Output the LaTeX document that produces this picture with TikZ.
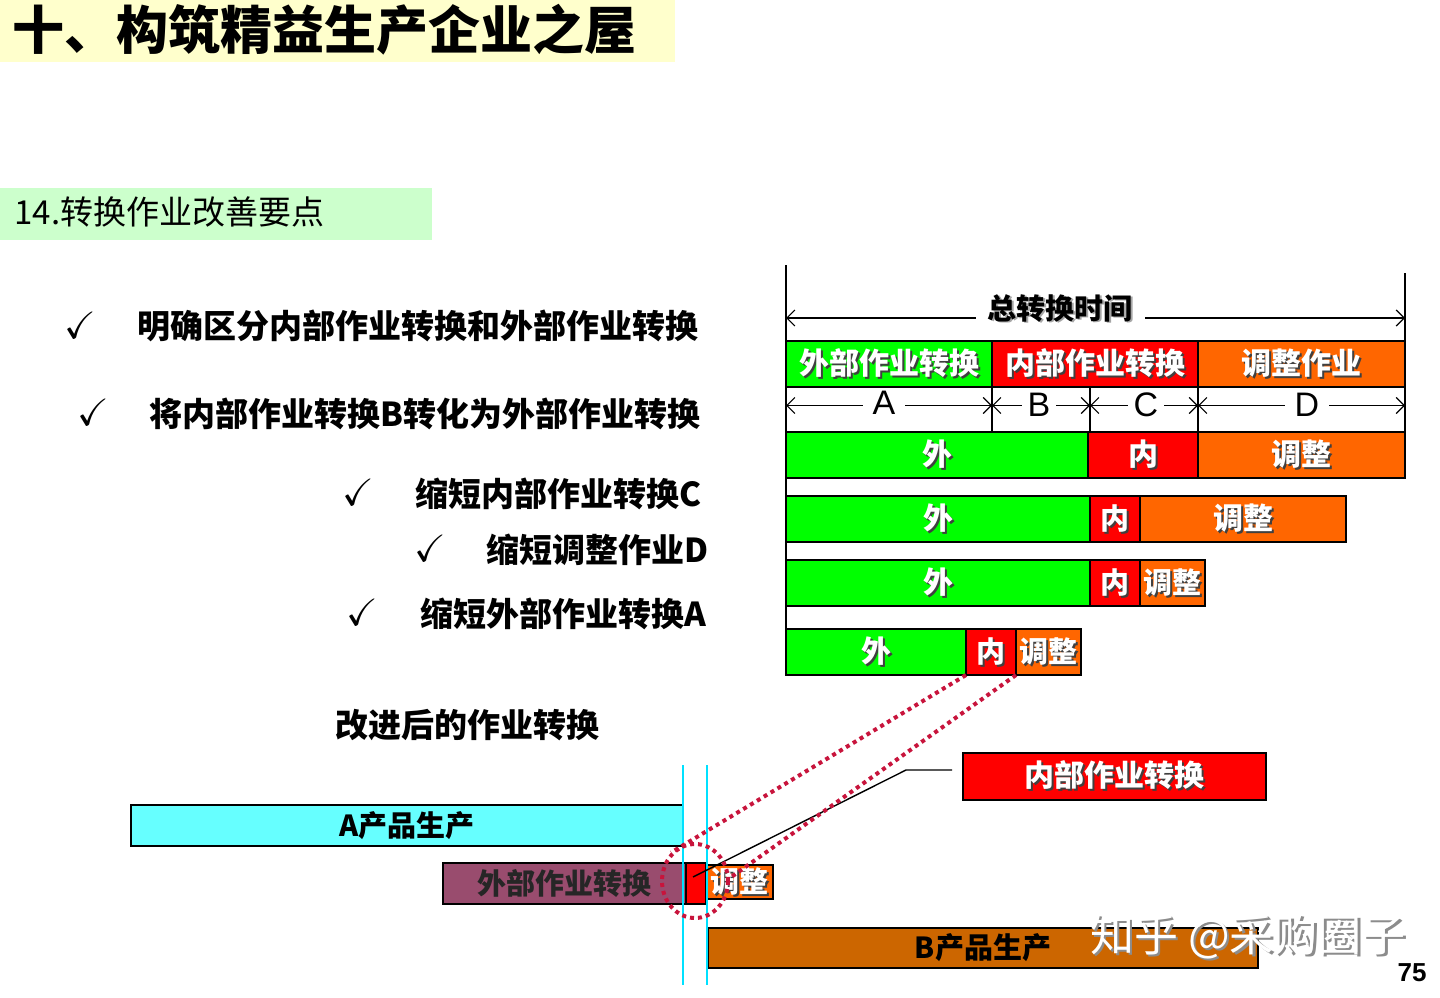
\documentclass[tikz,border=0pt]{standalone}
\usepackage{fontspec}
\usepackage{amssymb}
\setmainfont{Noto Sans CJK SC}
\newfontfamily\lat{Liberation Sans}
\usetikzlibrary{arrows.meta,shapes.geometric}
\definecolor{titlebg}{RGB}{255,255,204}
\definecolor{subbg}{RGB}{204,255,204}
\definecolor{gr}{RGB}{0,255,0}
\definecolor{rd}{RGB}{255,0,0}
\definecolor{og}{RGB}{255,102,0}
\definecolor{cy}{RGB}{102,255,255}
\definecolor{pu}{RGB}{153,76,110}
\definecolor{br}{RGB}{204,102,0}
\definecolor{cyl}{RGB}{0,225,255}
\definecolor{dred}{RGB}{200,20,60}
\newcommand\fs[1]{\fontsize{#1}{#1}\selectfont}
\newcommand\shw[1]{\rlap{\kern1pt\raisebox{-1pt}{\textcolor{black!75}{#1}}}\textcolor{white}{#1}}
\newcommand\shb[1]{\rlap{\kern0.8pt\raisebox{-0.8pt}{\textcolor{black!35}{#1}}}\textcolor{black}{#1}}
\newcommand\shg[1]{\rlap{\kern1.2pt\raisebox{-1.2pt}{\textcolor{black!45}{#1}}}\textcolor{white}{#1}}
\newcommand\bx[7][]{\node[draw=black, line width=0.9pt, inner sep=0pt, outer sep=0pt,
  minimum width={(#5-#3)*0.5pt}, minimum height={(#6-#4)*0.5pt}, #1] (#2) at ({(#3+#5)/2},{(#4+#6)/2}) {#7};}
\tikzset{
  hdr/.style={font=\bfseries\fs{15pt}},
  small/.style={font=\bfseries\fs{14.5pt}},
  item/.style={anchor=west, font=\bfseries\fs{16.5pt}},
  chk/.style={font=\fs{19pt}},
  dim/.style={black, line width=0.6pt, {Straight Barb[length=4pt,width=8pt]}-{Straight Barb[length=4pt,width=8pt]}},
  letter/.style={fill=white, inner xsep=5pt, inner ysep=0pt, font=\lat\fs{17pt}},
  dots/.style={dred, line width=2pt, dash pattern=on 2pt off 2pt},
  cyline/.style={cyl, line width=1.3pt},
}
\begin{document}
\begin{tikzpicture}[x=0.5pt,y=-0.5pt]
\useasboundingbox (0,0) rectangle (1440,997);
\fill[white] (0,0) rectangle (1440,997);
% title
\bx[fill=titlebg, draw=none]{titlebox}{0}{0}{675}{62}{}
\node[anchor=west, font=\bfseries\fs{26pt}, inner sep=0pt] (title) at (12,30) {十、构筑精益生产企业之屋};
\bx[fill=subbg, draw=none]{subbox}{0}{188}{432}{240}{}
\node[anchor=west, font=\fs{16.5pt}, inner sep=0pt] (sub) at (14,212) {14.转换作业改善要点};
% check list
\node[chk] (c1) at (80,325) {$\checkmark$};
\node[item] (t1) at (130,326) {明确区分内部作业转换和外部作业转换};
\node[chk] (c2) at (93,412) {$\checkmark$};
\node[item] (t2) at (142,414) {将内部作业转换B转化为外部作业转换};
\node[chk] (c3) at (358,492) {$\checkmark$};
\node[item] (t3) at (408,494) {缩短内部作业转换C};
\node[chk] (c4) at (430,548) {$\checkmark$};
\node[item] (t4) at (479,550) {缩短调整作业D};
\node[chk] (c5) at (362,612) {$\checkmark$};
\node[item] (t5) at (413,614) {缩短外部作业转换A};
\node[font=\bfseries\fs{16.5pt}] (imp) at (467,725) {改进后的作业转换};
% chart axes
\coordinate (axT) at (786,265); \coordinate (axB) at (786,675);
\coordinate (rT) at (1405,273); \coordinate (rB) at (1405,341);
\draw[line width=0.8pt] (axT) -- (axB);
\draw[line width=0.8pt] (rT) -- (rB);
\coordinate (totL) at (786,318); \coordinate (totR) at (1405,318);
\draw[dim] (totL) -- (totR);
\node[fill=white, inner xsep=6pt, inner ysep=2pt, font=\bfseries\fs{14.5pt}] (tot) at (1060,309) {\shb{总转换时间}};
% header row
\bx[fill=gr, hdr]{h1}{786}{341}{992}{387}{\shw{外部作业转换}}
\bx[fill=rd, hdr]{h2}{992}{341}{1198}{387}{\shw{内部作业转换}}
\bx[fill=og, hdr]{h3}{1198}{341}{1405}{387}{\shw{调整作业}}
% ABCD row
\bx[fill=white, line width=0.6pt]{sA}{786}{387}{992}{432}{}
\bx[fill=white, line width=0.6pt]{sB}{992}{387}{1090}{432}{}
\bx[fill=white, line width=0.6pt]{sC}{1090}{387}{1198}{432}{}
\bx[fill=white, line width=0.6pt]{sD}{1198}{387}{1405}{432}{}
\draw[dim] ([yshift=2pt]sA.west) -- ([yshift=2pt]sA.east);
\draw[dim] ([yshift=2pt]sB.west) -- ([yshift=2pt]sB.east);
\draw[dim] ([yshift=2pt]sC.west) -- ([yshift=2pt]sC.east);
\draw[dim] ([yshift=2pt]sD.west) -- ([yshift=2pt]sD.east);
\node[letter] (lA) at (884,403) {A};
\node[letter, inner xsep=3pt] (lB) at (1039,405) {B};
\node[letter, inner xsep=3pt] (lC) at (1146,405) {C};
\node[letter] (lD) at (1307,405) {D};
% rows
\bx[fill=gr, hdr]{r1a}{786}{432}{1088}{478}{\shw{外}}
\bx[fill=rd, hdr]{r1b}{1088}{432}{1198}{478}{\shw{内}}
\bx[fill=og, hdr]{r1c}{1198}{432}{1405}{478}{\shw{调整}}
\bx[fill=gr, hdr]{r2a}{786}{496}{1090}{542}{\shw{外}}
\bx[fill=rd, small]{r2b}{1090}{496}{1140}{542}{\shw{内}}
\bx[fill=og, hdr]{r2c}{1140}{496}{1346}{542}{\shw{调整}}
\bx[fill=gr, hdr]{r3a}{786}{560}{1090}{606}{\shw{外}}
\bx[fill=rd, small]{r3b}{1090}{560}{1140}{606}{\shw{内}}
\bx[fill=og, small]{r3c}{1140}{560}{1205}{606}{\shw{调整}}
\bx[fill=gr, hdr]{r4a}{786}{629}{966}{675}{\shw{外}}
\bx[fill=rd, small]{r4b}{966}{629}{1016}{675}{\shw{内}}
\bx[fill=og, small]{r4c}{1016}{629}{1081}{675}{\shw{调整}}
% bottom
\bx[fill=cy, font=\bfseries\fs{14.5pt}]{prodA}{131}{805}{683}{846}{A产品生产}
\bx[fill=pu, font=\bfseries\fs{14.5pt}]{ext}{443}{863}{686}{904}{\textcolor{black!85}{外部作业转换}}
\bx[fill=rd]{inn}{686}{863}{706}{904}{}
\bx[fill=og, small]{adj}{706}{865}{773}{899}{\shw{调整}}
\bx[fill=br, font=\bfseries\fs{14.5pt}]{prodB}{708}{928}{1258}{968}{B产品生产}
\coordinate (cy1T) at (683,765); \coordinate (cy1B) at (683,985);
\coordinate (cy2T) at (707,765); \coordinate (cy2B) at (707,985);
\draw[cyline] (cy1T) -- (cy1B);
\draw[cyline] (cy2T) -- (cy2B);
% callout
\bx[fill=rd, font=\bfseries\fs{15pt}]{call}{963}{753}{1266}{800}{\shw{内部作业转换}}
\coordinate (k1) at (952,770); \coordinate (k2) at (906,770); \coordinate (k3) at (693,877);
\draw[line width=0.7pt] (k1) -- (k2) -- (k3);
% dotted highlight
\node[ellipse, dots, draw, minimum width=33pt, minimum height=37pt, inner sep=0pt] (ell) at (695,881) {};
\draw[dots] (r4b.south west) -- (ell.130);
\draw[dots] (r4b.south east) -- (ell.5);
% watermark and page number
\node[anchor=west, font=\fs{22pt}, inner sep=0pt] (wm) at (1090,938) {\shg{知乎 @采购圈子}};
\node[font=\lat\bfseries\fs{13pt}] (pg) at (1412,973) {75};
\end{tikzpicture}
\end{document}
